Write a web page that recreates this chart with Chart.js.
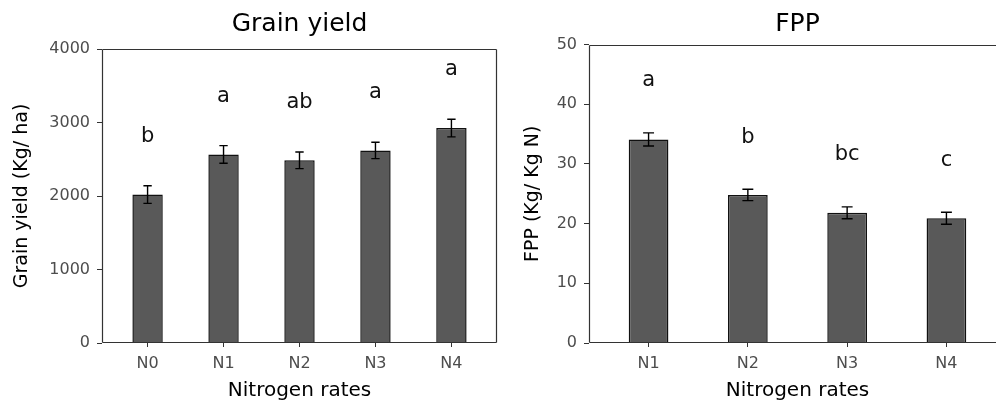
<!DOCTYPE html>
<html>
<head>
<meta charset="utf-8">
<script src="https://cdn.jsdelivr.net/npm/chart.js@4.4.1/dist/chart.umd.min.js"></script>
<style>
  html, body { margin: 0; padding: 0; background: #fff; overflow: hidden; }
  #wrap { position: relative; width: 996px; height: 403px; overflow: hidden; }
  canvas { position: absolute; top: 0; }
  #yieldChart { left: 0; }
  #fppChart { left: 500px; }
</style>
</head>
<body>
<div id="wrap">
  <canvas id="yieldChart" width="500" height="403"></canvas>
  <canvas id="fppChart" width="520" height="403"></canvas>
</div>
<script>
// datos
const yieldCats = ['N0', 'N1', 'N2', 'N3', 'N4'];
const yieldMean = [2020, 2565, 2485, 2620, 2925];
const yieldSE = [120, 120, 113, 111, 120];
const yieldLetters = ['b', 'a', 'ab', 'a', 'a'];
const yieldTicks = [0, 1000, 2000, 3000, 4000];

const fppCats = ['N1', 'N2', 'N3', 'N4'];
const fppMean = [34.1, 24.8, 21.8, 20.9];
const fppSE = [1.1, 0.95, 1.0, 1.0];
const fppLetters = ['a', 'b', 'bc', 'c'];
const fppTicks = [0, 10, 20, 30, 40, 50];

Chart.defaults.font.family = "'DejaVu Sans', sans-serif";
Chart.defaults.color = '#4d4d4d';

// barras de error + letras de significancia
const errorBarsPlugin = {
    id: 'errorBars',
    afterDatasetsDraw(chart, args, opts) {
        const { ctx } = chart;
        const xs = chart.scales.x, ys = chart.scales.y;
        const unit = xs.getPixelForValue(1) - xs.getPixelForValue(0);
        const half = unit * opts.capWidth / 2;
        ctx.save();
        ctx.strokeStyle = '#000';
        ctx.lineWidth = 1.4;
        opts.mean.forEach((m, i) => {
            const x = xs.getPixelForValue(i);
            const yTop = ys.getPixelForValue(m + opts.se[i]);
            const yBot = ys.getPixelForValue(m - opts.se[i]);
            ctx.beginPath();
            ctx.moveTo(x, yTop); ctx.lineTo(x, yBot);
            ctx.moveTo(x - half, yTop); ctx.lineTo(x + half, yTop);
            ctx.moveTo(x - half, yBot); ctx.lineTo(x + half, yBot);
            ctx.stroke();
        });
        ctx.fillStyle = '#111';
        ctx.font = "21px 'DejaVu Sans'";
        ctx.textAlign = 'center';
        ctx.textBaseline = 'alphabetic';
        opts.letters.forEach((l, i) => {
            const x = xs.getPixelForValue(i);
            const y = ys.getPixelForValue(opts.mean[i] + opts.se[i] + opts.letterGap);
            ctx.fillText(l, x, y);
        });
        ctx.restore();
    }
};

// marco del panel
const framePlugin = {
    id: 'frame',
    afterDraw(chart, args, opts) {
        const { ctx, chartArea: a } = chart;
        const l = Math.round(a.left) + 0.5, r = Math.round(a.right) - 0.5;
        const t = Math.round(a.top) + 0.5, b = Math.round(a.bottom) - 0.5;
        ctx.save();
        ctx.strokeStyle = '#333';
        ctx.lineWidth = 1.2;
        ctx.beginPath();
        ctx.moveTo(l, t); ctx.lineTo(r, t);
        ctx.moveTo(l, t); ctx.lineTo(l, b);
        ctx.moveTo(l, b); ctx.lineTo(r, b);
        if (opts.right) { ctx.moveTo(r, t); ctx.lineTo(r, b); }
        ctx.stroke();
        ctx.restore();
    }
};

function crearPanel(canvasId, cfg) {
    const ctx = document.getElementById(canvasId).getContext('2d');
    return new Chart(ctx, {
        type: 'bar',
        data: {
            datasets: [{
                data: cfg.mean.map((v, i) => ({ x: i, y: v })),
                backgroundColor: '#595959',
                borderColor: '#111',
                borderWidth: 1.5,
                inflateAmount: 0,
                barPercentage: 0.4,
                categoryPercentage: 1.0
            }]
        },
        options: {
            responsive: false,
            animation: false,
            layout: { padding: { left: 0, right: cfg.padRight, top: 0, bottom: 0 } },
            plugins: {
                legend: { display: false },
                tooltip: { enabled: false },
                title: {
                    display: true,
                    text: cfg.title,
                    color: '#000',
                    fullSize: false,
                    font: { size: 25, weight: 'normal' },
                    padding: { top: 9, bottom: cfg.titleBottom }
                },
                errorBars: {
                    mean: cfg.mean, se: cfg.se, letters: cfg.letters,
                    letterGap: cfg.letterGap, capWidth: 0.11
                },
                frame: { right: cfg.frameRight }
            },
            scales: {
                x: {
                    type: 'linear',
                    offset: false,
                    min: -0.6,
                    max: cfg.cats.length - 0.4,
                    afterBuildTicks: (axis) => { axis.ticks = cfg.cats.map((c, i) => ({ value: i })); },
                    afterFit: (axis) => { axis.height = 60; },
                    ticks: {
                        callback: (v) => cfg.cats[v],
                        font: { size: 16 },
                        color: '#4d4d4d',
                        padding: 7,
                        maxRotation: 0,
                        autoSkip: false
                    },
                    grid: { display: true, offset: false, drawOnChartArea: false, drawTicks: true, tickLength: 4, tickColor: '#333' },
                    border: { display: false },
                    title: {
                        display: true,
                        text: 'Nitrogen rates',
                        color: '#000',
                        font: { size: 20 },
                        padding: { top: 0, bottom: 0 }
                    }
                },
                y: {
                    min: 0,
                    max: cfg.yTicks[cfg.yTicks.length - 1],
                    afterBuildTicks: (axis) => { axis.ticks = cfg.yTicks.map(v => ({ value: v })); },
                    afterFit: (axis) => { axis.width = cfg.yWidth; },
                    ticks: { font: { size: 16 }, color: '#4d4d4d', padding: 7, callback: (v) => String(v) },
                    grid: { display: true, drawOnChartArea: false, drawTicks: true, tickLength: 5, tickColor: '#333' },
                    border: { display: false },
                    title: {
                        display: true,
                        text: cfg.yTitle,
                        color: '#000',
                        font: { size: 19 },
                        padding: { top: cfg.yTitlePad, bottom: 0 }
                    }
                }
            }
        },
        plugins: [errorBarsPlugin, framePlugin]
    });
}

crearPanel('yieldChart', {
    title: 'Grain yield',
    yTitle: 'Grain yield (Kg/ ha)',
    cats: yieldCats, mean: yieldMean, se: yieldSE, letters: yieldLetters,
    yTicks: yieldTicks, letterGap: 600,
    yWidth: 102, yTitlePad: 10.6, padRight: 3, titleBottom: 10, frameRight: true
});

crearPanel('fppChart', {
    title: 'FPP',
    yTitle: 'FPP (Kg/ Kg N)',
    cats: fppCats, mean: fppMean, se: fppSE, letters: fppLetters,
    yTicks: fppTicks, letterGap: 7.8,
    yWidth: 89, yTitlePad: 21.3, padRight: 14, titleBottom: 5.5, frameRight: true
});
</script>
</body>
</html>
